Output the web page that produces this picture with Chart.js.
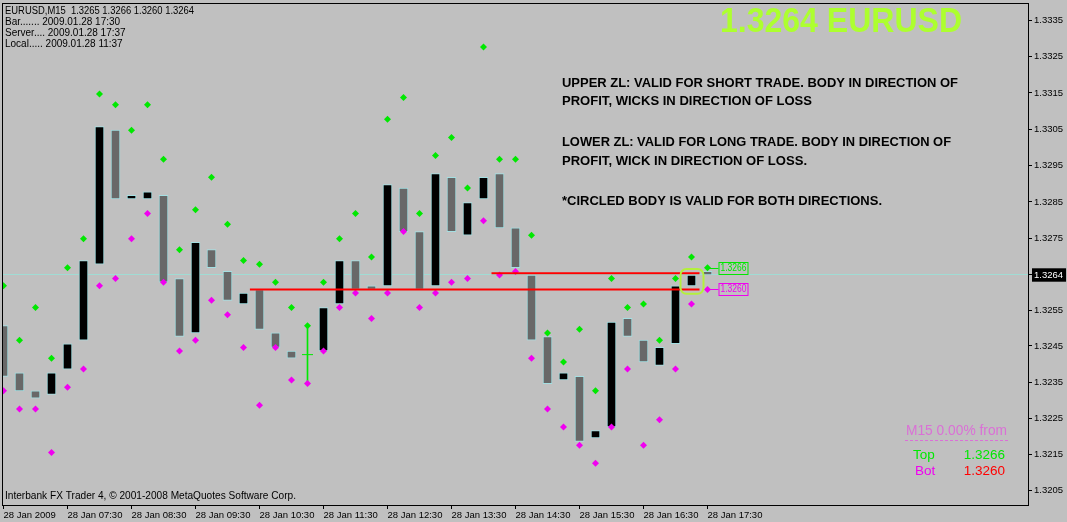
<!DOCTYPE html>
<html>
<head>
<meta charset="utf-8">
<title>EURUSD,M15</title>
<script src="https://cdn.jsdelivr.net/npm/chart.js@4.4.1/dist/chart.umd.min.js"></script>
<style>
  html, body { margin: 0; padding: 0; background: #c0c0c0; }
  #wrap { width: 1067px; height: 522px; position: relative; }
</style>
</head>
<body>
<div id="wrap"><canvas id="chart"></canvas></div>
<script>
// M15 bars of 28 Jan 2009, 06:30 .. 17:30 (bar index 0..44)
const opens = [
  1.3250, 1.3237, 1.3232, 1.3231, 1.3238, 1.3246, 1.3267, 1.3304, 1.3285, 1.3285,
  1.3286, 1.3263, 1.3248, 1.3271, 1.3265, 1.3256, 1.3260, 1.3248, 1.3243, 1.3242,
  1.3243, 1.3256, 1.3268, 1.3261, 1.3261, 1.3288, 1.3276, 1.3261, 1.3291, 1.3275,
  1.3285, 1.3292, 1.3277, 1.3264, 1.3247, 1.3235, 1.3236, 1.3219, 1.3222, 1.3252,
  1.3246, 1.3239, 1.3245, 1.3261, 1.3265
];
const closes = [
  1.3236, 1.3232, 1.3230, 1.3237, 1.3245, 1.3268, 1.3305, 1.3285, 1.3286, 1.3287,
  1.3262, 1.3247, 1.3273, 1.3266, 1.3257, 1.3259, 1.3249, 1.3244, 1.3241, 1.3242,
  1.3255, 1.3268, 1.3260, 1.3260, 1.3289, 1.3276, 1.3260, 1.3292, 1.3276, 1.3284,
  1.3291, 1.3277, 1.3266, 1.3246, 1.3234, 1.3237, 1.3218, 1.3221, 1.3251, 1.3247,
  1.3240, 1.3244, 1.3261, 1.3264, 1.3264
];
// bar highs / lows (green and magenta ZL markers)
const highs = [
  1.3261, 1.3246, 1.3255, 1.3241, 1.3266, 1.3274, 1.3314, 1.3311, 1.3304, 1.3311,
  1.3296, 1.3271, 1.3282, 1.3291, 1.3278, 1.3268, 1.3267, 1.3262, 1.3255, 1.3250,
  1.3262, 1.3274, 1.3281, 1.3269, 1.3307, 1.3313, 1.3281, 1.3297, 1.3302, 1.3288,
  1.3327, 1.3296, 1.3296, 1.3275, 1.3248, 1.3240, 1.3249, 1.3232, 1.3263, 1.3255,
  1.3256, 1.3246, 1.3263, 1.3269, 1.3266
];
const lows = [
  1.3232, 1.3227, 1.3227, 1.3215, 1.3233, 1.3238, 1.3261, 1.3263, 1.3274, 1.3281,
  1.3262, 1.3243, 1.3246, 1.3257, 1.3253, 1.3244, 1.3228, 1.3244, 1.3235, 1.3234,
  1.3243, 1.3255, 1.3259, 1.3252, 1.3259, 1.3276, 1.3255, 1.3259, 1.3262, 1.3263,
  1.3279, 1.3264, 1.3265, 1.3241, 1.3227, 1.3222, 1.3217, 1.3212, 1.3222, 1.3238,
  1.3217, 1.3224, 1.3238, 1.3256, 1.3260
];

// price grid as the terminal places it (grid price, printed label)
const priceTickValues = [1.32044, 1.32144, 1.32244, 1.32344, 1.32444, 1.32543, 1.3264,
  1.32742, 1.32842, 1.32942, 1.33041, 1.33143, 1.33243, 1.33344];
const priceTickLabels = ['1.3205', '1.3215', '1.3225', '1.3235', '1.3245', '1.3255', '1.3264',
  '1.3275', '1.3285', '1.3295', '1.3305', '1.3315', '1.3325', '1.3335'];
const timeTickBars = [0, 4, 8, 12, 16, 20, 24, 28, 32, 36, 40, 44];
const timeTickLabels = ['28 Jan 2009', '28 Jan 07:30', '28 Jan 08:30', '28 Jan 09:30',
  '28 Jan 10:30', '28 Jan 11:30', '28 Jan 12:30', '28 Jan 13:30', '28 Jan 14:30',
  '28 Jan 15:30', '28 Jan 16:30', '28 Jan 17:30'];

// hand drawn zone lines (price, from bar, to bar)
const zoneLevels = [1.32645, 1.3260];
const zoneStart = [30.5, 15.4];
const zoneEnd = [43.5, 43.5];

const notes = [
  'UPPER ZL: VALID FOR SHORT TRADE. BODY IN DIRECTION OF',
  'PROFIT, WICKS IN DIRECTION OF LOSS',
  'LOWER ZL: VALID FOR LONG TRADE. BODY IN DIRECTION OF',
  'PROFIT, WICK IN DIRECTION OF LOSS.',
  '*CIRCLED BODY IS VALID FOR BOTH DIRECTIONS.'
];

const symbol = 'EURUSD';
const last = opens.length - 1;
const bid = closes[last];
const zlTop = highs[last];
const zlBot = lows[last];

const LIME = '#00e800';
const MAGENTA = '#f000f0';
const OUTLINE = '#a4dfe2';

Chart.defaults.font.family = '"Liberation Sans", Arial, sans-serif';

const bodyIdx = opens.map((o, i) => i).filter(i => opens[i] !== closes[i]);
const dojiIdx = opens.map((o, i) => i).filter(i => opens[i] === closes[i]);

function txt(ctx, s, x, y, font, color, align, maxW) {
    ctx.font = font;
    ctx.fillStyle = color;
    ctx.textAlign = align || 'left';
    ctx.textBaseline = 'middle';
    if (maxW) ctx.fillText(s, x, y, maxW);
    else ctx.fillText(s, x, y);
}

function roundBox(ctx, x, y, w, h, r) {
    ctx.beginPath();
    ctx.moveTo(x + r, y);
    ctx.lineTo(x + w - r, y);
    ctx.arcTo(x + w, y, x + w, y + r, r);
    ctx.lineTo(x + w, y + h - r);
    ctx.arcTo(x + w, y + h, x + w - r, y + h, r);
    ctx.lineTo(x + r, y + h);
    ctx.arcTo(x, y + h, x, y + h - r, r);
    ctx.lineTo(x, y + r);
    ctx.arcTo(x, y, x + r, y, r);
    ctx.closePath();
}

const overlay = {
    id: 'mt4Overlay',
    beforeDatasetsDraw(chart) {
        const {ctx, chartArea: a, scales: {y}} = chart;
        const py = Math.round(y.getPixelForValue(bid)) - 0.5;
        ctx.save();
        ctx.strokeStyle = '#a0dcd4';
        ctx.lineWidth = 1;
        ctx.beginPath();
        ctx.moveTo(a.left, py);
        ctx.lineTo(a.right, py);
        ctx.stroke();
        ctx.restore();
    },
    afterDatasetsDraw(chart) {
        const {ctx, scales: {x, y}} = chart;
        ctx.save();
        // ZL price boxes for the current bar
        const x0 = x.getPixelForValue(last);
        [[zlTop, LIME], [zlBot, MAGENTA]].forEach(([p, c]) => {
            const py = Math.round(y.getPixelForValue(p)) + 0.5;
            ctx.strokeStyle = c;
            ctx.lineWidth = 1;
            ctx.beginPath();
            ctx.moveTo(x0 + 1, py);
            ctx.lineTo(x0 + 11, py);
            ctx.stroke();
            ctx.strokeRect(x0 + 11.5, py - 6, 29, 12);
            txt(ctx, p.toFixed(4), x0 + 26, py, '10px "Liberation Sans"', c, 'center', 26);
        });
        // circled body
        const k = last - 1;
        const cx = x.getPixelForValue(k);
        const yt = y.getPixelForValue(Math.max(opens[k], closes[k])) - 6;
        const yb = y.getPixelForValue(Math.min(opens[k], closes[k])) + 8;
        ctx.strokeStyle = '#b4f03c';
        ctx.lineWidth = 2;
        roundBox(ctx, cx - 11, yt, 23, yb - yt, 6);
        ctx.stroke();
        ctx.restore();
    },
    afterDraw(chart) {
        const {ctx, chartArea: a} = chart;
        ctx.save();
        ctx.strokeStyle = '#000';
        ctx.lineWidth = 1;
        ctx.strokeRect(a.left + 0.5, a.top + 0.5, a.right - a.left - 1, a.bottom - a.top);

        // title
        txt(ctx, bid.toFixed(4) + ' ' + symbol, 720, 22, 'bold 35px "Liberation Sans"', '#adff2f', 'left', 242);

        // notes
        const noteY = [83, 101, 142, 161, 201];
        const noteW = [396, 250, 389, 245, 320];
        notes.forEach((s, i) => txt(ctx, s, 562, noteY[i], 'bold 13.5px "Liberation Sans"', '#000', 'left', noteW[i]));

        // info block top left
        const info = [
            `${symbol},M15  ${opens[last].toFixed(4)} ${highs[last].toFixed(4)} ${lows[last].toFixed(4)} ${closes[last].toFixed(4)}`,
            'Bar....... 2009.01.28 17:30',
            'Server.... 2009.01.28 17:37',
            'Local..... 2009.01.28 11:37'
        ];
        const infoY = [11, 22, 33, 44];
        info.forEach((s, i) => txt(ctx, s, 5, infoY[i], '10px "Liberation Sans"', '#000', 'left', i === 0 ? 189 : 0));

        txt(ctx, 'Interbank FX Trader 4, \u00a9 2001-2008 MetaQuotes Software Corp.', 5, 496,
            '11px "Liberation Sans"', '#000', 'left', 291);

        // ZL panel
        txt(ctx, 'M15 0.00% from', 906, 431, '14px "Liberation Sans"', '#da70d6', 'left', 101);
        ctx.strokeStyle = '#da70d6';
        ctx.setLineDash([3, 2]);
        ctx.beginPath();
        ctx.moveTo(905, 440.5);
        ctx.lineTo(1008, 440.5);
        ctx.stroke();
        ctx.setLineDash([]);
        txt(ctx, 'Top', 913, 455, '13.5px "Liberation Sans"', LIME, 'left');
        txt(ctx, zlTop.toFixed(4), 1005, 455, '13.5px "Liberation Sans"', LIME, 'right');
        txt(ctx, 'Bot', 915, 471, '13.5px "Liberation Sans"', MAGENTA, 'left');
        txt(ctx, zlBot.toFixed(4), 1005, 471, '13.5px "Liberation Sans"', '#ff0000', 'right');
        ctx.restore();
    }
};

const zeroPad = s => { s.paddingLeft = 0; s.paddingRight = 0; s.paddingTop = 0; s.paddingBottom = 0; };

new Chart(document.getElementById('chart'), {
    type: 'bar',
    data: {
        datasets: [
            ...zoneLevels.map((lvl, i) => ({
                type: 'line',
                label: 'ZL ' + (i + 1),
                data: [{x: zoneStart[i], y: lvl}, {x: zoneEnd[i], y: lvl}],
                borderColor: '#ff0000',
                borderWidth: 2,
                pointRadius: 0,
                order: 0
            })),
            {
                type: 'line',
                label: 'Up',
                data: highs.map((v, i) => ({x: i, y: v})),
                showLine: false,
                pointStyle: 'rectRot',
                pointRadius: 3.5,
                pointBackgroundColor: LIME,
                pointBorderWidth: 0,
                order: 1
            },
            {
                type: 'line',
                label: 'Down',
                data: lows.map((v, i) => ({x: i, y: v})),
                showLine: false,
                pointStyle: 'rectRot',
                pointRadius: 3.5,
                pointBackgroundColor: MAGENTA,
                pointBorderWidth: 0,
                order: 1
            },
            {
                type: 'line',
                label: 'Doji',
                data: dojiIdx.map(i => ({x: i, y: opens[i]})),
                showLine: false,
                pointStyle: 'line',
                pointRadius: 5.5,
                pointBorderColor: LIME,
                pointBorderWidth: 1,
                order: 2
            },
            {
                type: 'bar',
                label: 'Doji range',
                data: dojiIdx.map(i => ({x: i, y: [lows[i], highs[i]]})),
                backgroundColor: LIME,
                barThickness: 1,
                grouped: false,
                order: 3
            },
            {
                type: 'bar',
                label: 'Bodies',
                data: bodyIdx.map(i => ({x: i, y: [opens[i], closes[i]]})),
                backgroundColor: c => (c.raw && c.raw.y[1] > c.raw.y[0]) ? '#000000' : '#686868',
                borderColor: OUTLINE,
                borderWidth: 1,
                borderSkipped: false,
                barThickness: 9,
                grouped: false,
                order: 4
            }
        ]
    },
    options: {
        responsive: true,
        maintainAspectRatio: false,
        animation: false,
        events: [],
        layout: { autoPadding: false, padding: { left: 2, top: 3, right: 0, bottom: 0 } },
        plugins: { legend: { display: false }, tooltip: { enabled: false } },
        scales: {
            x: {
                type: 'linear',
                min: -0.09375,
                max: 64.09375,
                offset: false,
                grid: { display: true, offset: false, drawOnChartArea: false, drawTicks: true, tickLength: 4, color: '#000' },
                border: { display: false },
                afterBuildTicks: s => { s.ticks = timeTickBars.map(v => ({value: v})); },
                afterFit: s => { s.height = 17; zeroPad(s); },
                ticks: {
                    autoSkip: false,
                    maxRotation: 0,
                    minRotation: 0,
                    align: 'start',
                    padding: 1,
                    color: '#000',
                    font: { size: 9.5 },
                    callback: v => timeTickLabels[timeTickBars.indexOf(v)]
                }
            },
            y: {
                type: 'linear',
                position: 'right',
                min: 1.3200464,
                max: 1.3339138,
                grid: { display: true, drawOnChartArea: false, drawTicks: true, tickLength: 3, color: '#000' },
                border: { display: false },
                afterBuildTicks: s => { s.ticks = priceTickValues.map(v => ({value: v})); },
                afterFit: s => { s.width = 38; zeroPad(s); },
                ticks: {
                    padding: 2,
                    font: { size: 9.5 },
                    color: c => (c.tick && c.tick.value === bid) ? '#ffffff' : '#000000',
                    showLabelBackdrop: c => !!(c.tick && c.tick.value === bid),
                    backdropColor: '#000000',
                    backdropPadding: { top: 1, bottom: 1, left: 2, right: 3 },
                    callback: v => priceTickLabels[priceTickValues.indexOf(v)]
                }
            }
        }
    },
    plugins: [overlay]
});
</script>
</body>
</html>
